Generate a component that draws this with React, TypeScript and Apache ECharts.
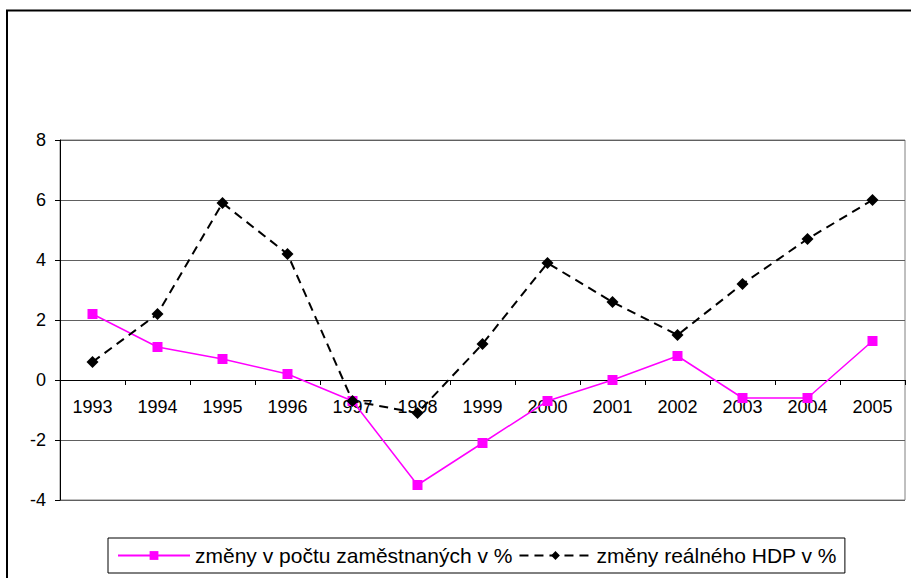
import React, { useEffect, useRef } from "react";
import * as echarts from "echarts";

const years = ["1993", "1994", "1995", "1996", "1997", "1998", "1999", "2000", "2001", "2002", "2003", "2004", "2005"];
const employmentChange = [2.2, 1.1, 0.7, 0.2, -0.7, -3.5, -2.1, -0.7, 0.0, 0.8, -0.6, -0.6, 1.3];
const gdpChange = [0.6, 2.2, 5.9, 4.2, -0.7, -1.1, 1.2, 3.9, 2.6, 1.5, 3.2, 4.7, 6.0];
const seriesNames = ["změny v počtu zaměstnaných v %", "změny reálného HDP v %"];

export default function App() {
  const ref = useRef<HTMLDivElement>(null);
  useEffect(() => {
    if (!ref.current) return;
    const chart = echarts.init(ref.current, null, { renderer: "svg" });
    const font = "Arial, 'Liberation Sans', sans-serif";
    chart.setOption({
      animation: false,
      backgroundColor: "#ffffff",
      textStyle: { fontFamily: font },
      graphic: [
        {
          type: "rect",
          shape: { x: 7, y: 10.5, width: 1000, height: 1000 },
          style: { fill: "none", stroke: "#000", lineWidth: 2 },
          z: 100,
        },
      ],
      grid: {
        left: 60,
        top: 140,
        right: 6,
        bottom: 78,
        show: true,
        borderColor: "#808080",
        borderWidth: 1,
      },
      legend: {
        left: 108,
        top: 538,
        padding: [7, 8, 7, 9],
        itemGap: 6,
        itemWidth: 72,
        itemHeight: 11,
        borderColor: "#000",
        borderWidth: 1,
        borderRadius: 0,
        textStyle: { fontSize: 21, color: "#000", fontFamily: font },
        data: seriesNames,
      },
      xAxis: {
        type: "category",
        data: years,
        boundaryGap: true,
        offset: -120,
        axisLine: { show: true, onZero: false, lineStyle: { color: "#000", width: 1 } },
        axisTick: { show: true, inside: false, length: 5, alignWithLabel: false, lineStyle: { color: "#000" } },
        axisLabel: { fontSize: 18, color: "#000", margin: 18, fontFamily: font },
        splitLine: { show: false },
      },
      yAxis: {
        type: "value",
        min: -4,
        max: 8,
        interval: 2,
        axisLine: { show: true, lineStyle: { color: "#000", width: 1 } },
        axisTick: { show: true, length: 5, lineStyle: { color: "#000" } },
        axisLabel: { fontSize: 18, color: "#000", margin: 14, fontFamily: font },
        splitLine: { show: true, lineStyle: { color: "#606060", width: 1 } },
      },
      series: [
        {
          name: seriesNames[0],
          type: "line",
          data: employmentChange,
          symbol: "rect",
          symbolSize: 10,
          itemStyle: { color: "#ff00ff" },
          lineStyle: { color: "#ff00ff", width: 1.5 },
          z: 3,
        },
        {
          name: seriesNames[1],
          type: "line",
          data: gdpChange,
          symbol: "diamond",
          symbolSize: 12,
          itemStyle: { color: "#000" },
          lineStyle: { color: "#000", width: 2, type: [9, 6] },
          z: 4,
        },
      ],
    });
    return () => chart.dispose();
  }, []);
  return (
    <div
      ref={ref}
      style={{ position: "fixed", left: 0, top: 0, width: 911, height: 578, background: "#fff" }}
    />
  );
}
